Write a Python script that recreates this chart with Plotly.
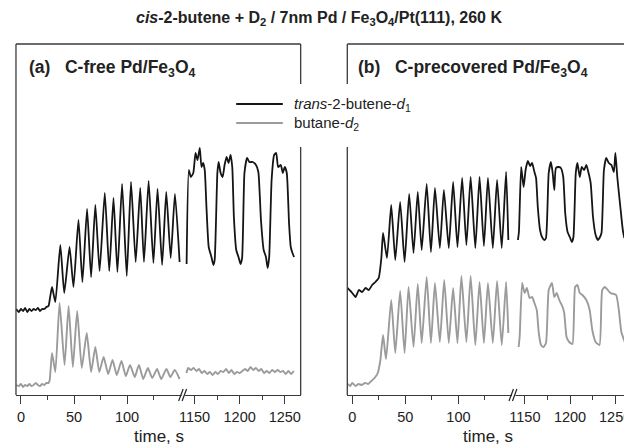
import plotly.graph_objects as go

# ---------------- data (time in s, signal in arbitrary units) ----------------
# Panel (a) C-free, first time segment
a_trans_t1 = [-4.5, -2, 0, 2, 4, 6, 8, 10, 12, 14, 16, 18, 20, 22, 24, 26, 27.1,
              29.3, 32.4, 37.1, 40.8, 45.8, 49.5, 54.2, 57.9, 62.3, 66.1, 70.1, 74.1,
              79.0, 83.2, 87.2, 90.9, 95.3, 99.7, 103.7, 108.1, 112.4, 115.9, 120.3,
              124.8, 128.7, 133.0, 136.9, 141.1, 145.1, 149.5]
a_trans_s1 = [86, 83, 86, 84, 87, 83, 86, 84, 86, 85, 87, 84, 86, 86, 88, 89, 95,
              108, 93, 150, 102, 148, 108, 175, 113, 186, 118, 190, 124,
              202, 124, 197, 123, 211, 119, 213, 133, 207, 133, 214,
              132, 206, 130, 203, 137, 201, 133]
a_butane_t1 = [-4.5, -2, 0, 2, 4, 6, 8, 10, 12, 14, 16, 18, 20, 22, 24, 26, 27.1,
               29.3, 32.4, 36.4, 41.1, 44.9, 48.9, 53.0, 57.3, 62.0, 66.1, 70.1, 73.8,
               77.9, 82.2, 86.3, 90.3, 94.7, 98.8, 102.8, 107.2, 111.2, 115.2, 119.6,
               123.7, 128.3, 132.1, 137.1, 140.8, 144.9, 149.5]
a_butane_s1 = [10, 9, 11, 8, 10, 9, 11, 9, 10, 12, 10, 9, 11, 10, 12, 12, 15,
               42, 23, 92, 30, 89, 28, 84, 27, 62, 23, 48, 23,
               38, 21, 35, 20, 34, 19, 30, 18, 30, 16, 27,
               17, 26, 16, 26, 18, 25, 16]
# Panel (a), second time segment
a_trans_t2 = [1141.2, 1143.7, 1145.9, 1148.6, 1151.1, 1153.3, 1155.8, 1157.7, 1159.5, 1161.3,
              1163.2, 1165.7, 1168.7, 1170.9, 1172.3, 1175.3, 1176.7, 1178.9, 1181.1, 1183.3,
              1185.5, 1187.7, 1189.9, 1191.8, 1193.6, 1196.2, 1198.7, 1200.9, 1202.7, 1205.3,
              1208.2, 1210.8, 1214.5, 1218.1, 1220.7, 1223.6, 1226.6, 1229.1, 1231.0, 1232.7,
              1235.4, 1238.2, 1240.5, 1242.6, 1245.6, 1247.8, 1250.0, 1252.2, 1254.7, 1256.6,
              1258.5, 1260.3]
a_trans_s2 = [131, 225, 218, 222, 242, 235, 247, 228, 232, 225,
              188, 148, 138, 130, 135, 222, 233, 222, 218, 230,
              238, 232, 240, 228, 178, 145, 138, 131, 137, 222,
              237, 233, 233, 230, 223, 175, 145, 138, 127, 138,
              215, 240, 242, 228, 230, 222, 228, 222, 172, 148,
              142, 138]
a_butane_t2 = [1141, 1143, 1146, 1149, 1152, 1155, 1158, 1161, 1164, 1167, 1170, 1173, 1176,
               1179, 1182, 1185, 1188, 1191, 1194, 1197, 1200, 1203, 1206, 1209, 1212, 1215,
               1218, 1221, 1224, 1227, 1230, 1233, 1236, 1239, 1242, 1245, 1248, 1251, 1254,
               1257, 1260]
a_butane_s2 = [22, 27, 25, 27, 24, 26, 22, 24, 21, 23, 20, 23, 21,
               24, 23, 26, 22, 25, 21, 23, 22, 24, 26, 24, 28, 25,
               27, 24, 26, 22, 24, 22, 25, 23, 25, 23, 24, 21, 24,
               21, 24]

# Panel (b) C-precovered, first time segment
b_trans_t1 = [-4.5, 0, 3.1, 6.2, 9.3, 12.5, 15.6, 18.7, 21.8, 24.9, 27.4,
              29.0, 32.7, 36.7, 40.5, 45.1, 49.3, 53.6, 57.7, 61.7, 65.4, 70.1, 74.1,
              77.9, 82.5, 86.3, 90.9, 95.0, 99.1, 103.5, 107.5, 111.5, 115.9, 119.9,
              124.0, 127.8, 132.4, 136.4, 140.8, 144.9, 147.0]
b_trans_s1 = [107, 102, 98, 105, 103, 107, 105, 110, 113, 117, 137,
              162, 137, 190, 135, 193, 133, 201, 142, 203, 145, 211, 143,
              207, 147, 205, 147, 213, 148, 217, 150, 218, 147, 218,
              149, 217, 147, 215, 147, 223, 155]
b_butane_t1 = [-4.5, -2, 0, 3, 6, 9, 12, 15, 18, 21, 24, 26.5,
               29.0, 31.8, 36.7, 40.5, 45.1, 49.3, 53.0, 57.7, 61.7, 65.4, 70.1, 74.1,
               77.9, 82.5, 86.6, 90.9, 95.0, 99.1, 102.8, 107.5, 111.5, 115.9, 119.9,
               124.0, 127.8, 132.4, 136.4, 140.8, 144.9, 147.0]
b_butane_s1 = [11, 9, 12, 9, 11, 10, 12, 11, 14, 17, 22, 35,
               60, 36, 95, 42, 104, 42, 108, 48, 111, 52, 118, 52,
               112, 53, 115, 52, 107, 52, 119, 53, 119, 50, 113,
               52, 112, 52, 114, 50, 113, 62]
# Panel (b), second time segment
b_trans_t2 = [1142.3, 1143.4, 1145.9, 1148.6, 1150.8, 1153.3, 1155.8, 1158.0, 1160.6, 1162.4,
              1164.3, 1166.8, 1169.0, 1171.6, 1173.4, 1176.4, 1178.9, 1180.8, 1182.6, 1184.4,
              1187.4, 1189.9, 1192.5, 1194.7, 1197.3, 1199.8, 1202.0, 1203.8, 1206.4, 1208.2,
              1210.8, 1213.0, 1215.6, 1218.1, 1220.3, 1222.9, 1225.5, 1228.4, 1231.0, 1232.7,
              1234.9, 1237.6, 1240.1, 1243.1, 1245.9, 1248.6, 1250.3, 1252.5, 1255.8, 1258.5,
              1260.2]
b_trans_s2 = [155, 163, 228, 208, 225, 234, 229, 232, 223, 217,
              188, 165, 158, 155, 157, 222, 233, 222, 205, 227,
              228, 227, 218, 182, 163, 158, 153, 158, 222, 232,
              218, 228, 225, 230, 223, 212, 178, 160, 155, 157,
              162, 225, 237, 232, 230, 223, 242, 217, 188, 165,
              157]
b_butane_t2 = [1143.1, 1144.2, 1147.0, 1149.7, 1152.2, 1155.2, 1158.0, 1160.6, 1163.2, 1165.4,
               1167.9, 1170.5, 1173.4, 1176.4, 1180.0, 1182.6, 1185.2, 1188.1, 1191.8, 1193.6,
               1196.2, 1199.1, 1202.7, 1205.7, 1208.2, 1210.8, 1213.7, 1218.1, 1221.8, 1224.7,
               1228.4, 1232.7, 1235.7, 1238.7, 1244.8, 1251.1, 1254.1, 1256.9, 1260.7]
b_butane_s2 = [48, 58, 112, 102, 107, 97, 98, 92, 85, 62,
               50, 48, 52, 105, 112, 98, 102, 95, 88, 82,
               58, 53, 51, 108, 110, 102, 100, 95, 85, 65,
               53, 50, 105, 108, 102, 100, 85, 63, 53]

seg1_ticks = [0, 50, 100]
seg1_minor = [25, 75, 125]
seg2_ticks = [1150, 1200, 1250]
seg2_minor = [1175, 1225]

series_names = ["<i>trans</i>-2-butene-<i>d</i><sub>1</sub>", "butane-<i>d</i><sub>2</sub>"]
panel_titles = ["(a)&nbsp;&nbsp;&nbsp;C-free Pd/Fe<sub>3</sub>O<sub>4</sub>",
                "(b)&nbsp;&nbsp;&nbsp;C-precovered Pd/Fe<sub>3</sub>O<sub>4</sub>"]
title_text = ("<b><i>cis</i>-2-butene + D<sub>2</sub> / 7nm Pd / "
              "Fe<sub>3</sub>O<sub>4</sub>/Pt(111), 260 K</b>")

# ---------------- layout geometry ----------------
# the page body adds an 8px margin, so the figure is 8px smaller and all
# positions below are given in window pixels and shifted by that margin
OFF = 8
W, H = 632 - OFF, 446 - OFF
FONT = "Liberation Sans, Arial, sans-serif"
BLACK = "#151515"
GRAY = "#9b9b9b"
FRAME = "#3a3a3a"


def px(x):
    return (x - OFF) / W


def py(y):
    return (H - (y - OFF)) / H


Y_TOP, Y_BOT = 44, 395

fig = go.Figure()

trace_specs = [
    ("x", a_trans_t1, a_trans_s1, BLACK, 1.8),
    ("x", a_butane_t1, a_butane_s1, GRAY, 1.9),
    ("x2", a_trans_t2, a_trans_s2, BLACK, 1.8),
    ("x2", a_butane_t2, a_butane_s2, GRAY, 1.9),
    ("x3", b_trans_t1, b_trans_s1, BLACK, 1.8),
    ("x3", b_butane_t1, b_butane_s1, GRAY, 1.9),
    ("x4", b_trans_t2, b_trans_s2, BLACK, 1.8),
    ("x4", b_butane_t2, b_butane_s2, GRAY, 1.9),
]
for i, (xa, t, s, c, w) in enumerate(trace_specs):
    fig.add_trace(go.Scatter(
        x=t, y=s, xaxis=xa, yaxis="y", mode="lines",
        line=dict(color=c, width=w, shape="spline", smoothing=0.5),
        name=series_names[i % 2], showlegend=False, hoverinfo="skip"))

axis_common = dict(
    showgrid=False, zeroline=False, showline=True, linecolor=FRAME, linewidth=1.3,
    ticks="outside", ticklen=8, tickwidth=1.3, tickcolor=FRAME,
    tickfont=dict(family=FONT, size=14.5, color="#222"), anchor="y",
    fixedrange=True,
)
minor_common = dict(ticks="outside", ticklen=4, tickwidth=1.3, tickcolor=FRAME)

fig.update_layout(
    width=W, height=H, margin=dict(l=0, r=0, t=0, b=0),
    paper_bgcolor="white", plot_bgcolor="white", showlegend=False,
    xaxis=dict(domain=[px(11), px(180)], range=[-4.67, 153.27],
               tickvals=seg1_ticks, minor=dict(tickvals=seg1_minor, **minor_common), **axis_common),
    xaxis2=dict(domain=[px(180), px(298)], range=[1137.9, 1267.6],
                tickvals=seg2_ticks, minor=dict(tickvals=seg2_minor, **minor_common), **axis_common),
    xaxis3=dict(domain=[px(345), px(513)], range=[-4.67, 152.3],
                tickvals=seg1_ticks, minor=dict(tickvals=seg1_minor, **minor_common), **axis_common),
    xaxis4=dict(domain=[px(513), 1.0], range=[1137.9, 1268.7],
                tickvals=seg2_ticks, minor=dict(tickvals=seg2_minor, **minor_common), **axis_common),
    yaxis=dict(domain=[py(Y_BOT), py(Y_TOP)], range=[0, Y_BOT - Y_TOP], visible=False,
               fixedrange=True),
)

shapes = []


def seg(x0, y0, x1, y1, color=FRAME, width=1.3):
    shapes.append(dict(type="line", xref="paper", yref="paper",
                       x0=px(x0), y0=py(y0), x1=px(x1), y1=py(y1),
                       line=dict(color=color, width=width)))


# frame of panel (a)
seg(11, Y_TOP, 11, Y_BOT)
seg(11, Y_TOP, 298, Y_TOP)
seg(298, Y_TOP, 298, 84)
seg(298, 147, 298, Y_BOT)
# frame of panel (b)
seg(345, Y_TOP, 345, 84)
seg(345, 147, 345, Y_BOT)
seg(345, Y_TOP, 632, Y_TOP)

# axis break marks
for bx in (180, 513):
    shapes.append(dict(type="rect", xref="paper", yref="paper",
                       x0=px(bx - 2), x1=px(bx + 1.5), y0=py(397), y1=py(393),
                       fillcolor="white", line=dict(width=0)))
    seg(bx - 5, 401, bx - 0.5, 389, color="#222", width=1.2)
    seg(bx - 1.5, 401, bx + 3, 389, color="#222", width=1.2)

# legend samples
seg(233, 104, 280, 104, color=BLACK, width=1.8)
seg(233, 123, 280, 123, color=GRAY, width=1.9)

fig.update_layout(shapes=shapes)

ann = []
ann.append(dict(text=title_text, x=px(316), y=py(18), xref="paper", yref="paper",
                showarrow=False, xanchor="center", yanchor="middle",
                font=dict(family=FONT, size=16, color="#222")))
ann.append(dict(text="<b>" + panel_titles[0] + "</b>", x=px(22), y=py(69), xref="paper",
                yref="paper", showarrow=False, xanchor="left", yanchor="middle",
                font=dict(family=FONT, size=17.5, color="#222")))
ann.append(dict(text="<b>" + panel_titles[1] + "</b>", x=px(354), y=py(69), xref="paper",
                yref="paper", showarrow=False, xanchor="left", yanchor="middle",
                font=dict(family=FONT, size=17.5, color="#222")))
ann.append(dict(text=series_names[0], x=px(289), y=py(104), xref="paper", yref="paper",
                showarrow=False, xanchor="left", yanchor="middle",
                font=dict(family=FONT, size=15, color="#222")))
ann.append(dict(text=series_names[1], x=px(289), y=py(123), xref="paper", yref="paper",
                showarrow=False, xanchor="left", yanchor="middle",
                font=dict(family=FONT, size=15, color="#222")))
for cx in (155, 487):
    ann.append(dict(text="time, s", x=px(cx), y=py(436), xref="paper", yref="paper",
                    showarrow=False, xanchor="center", yanchor="middle",
                    font=dict(family=FONT, size=17, color="#222")))
fig.update_layout(annotations=ann)

fig.write_html("out.html")
